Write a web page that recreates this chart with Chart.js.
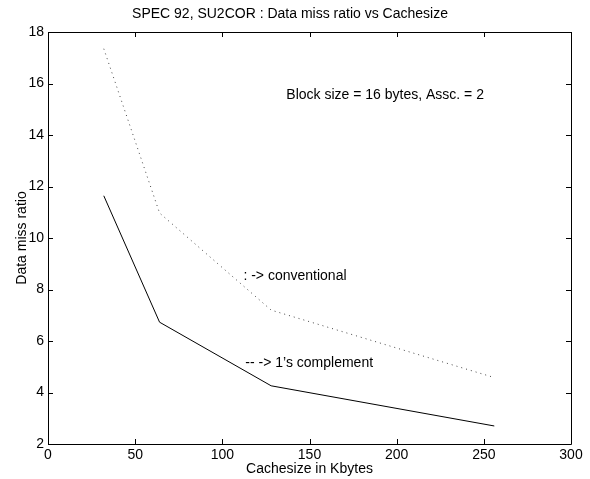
<!DOCTYPE html>
<html>
<head>
<meta charset="utf-8">
<script src="https://cdn.jsdelivr.net/npm/chart.js@4/dist/chart.umd.min.js"></script>
<style>
  html, body { margin: 0; padding: 0; background: #fff; }
  #wrap { width: 590px; height: 479px; }
</style>
</head>
<body>
<div id="wrap"><canvas id="missChart" width="590" height="479"></canvas></div>
<script>
// data
const cacheSizes = [32, 64, 128, 256];
const conventional = [17.35, 10.97, 7.2, 4.58];
const onesComplement = [11.64, 6.73, 4.26, 2.7];
const xTicks = [0, 50, 100, 150, 200, 250, 300];
const yTicks = [2, 4, 6, 8, 10, 12, 14, 16, 18];
const notes = ['Block size = 16 bytes, Assc. = 2', ': -> conventional', '-- -> 1\u2019s complement'];

const FONT = 'Liberation Sans, Arial, Helvetica, sans-serif';

// text notes inside the axes, placed in data units
const notePlugin = {
    id: 'notes',
    afterDatasetsDraw(chart) {
        const {ctx, scales: {x, y}} = chart;
        const at = [[136.7, 15.55], [112.1, 8.5], [113.2, 5.13]];
        ctx.save();
        ctx.font = '14px ' + FONT;
        ctx.fillStyle = '#000';
        ctx.textAlign = 'left';
        ctx.textBaseline = 'middle';
        notes.forEach((t, i) => {
            ctx.fillText(t, x.getPixelForValue(at[i][0]), y.getPixelForValue(at[i][1]));
        });
        ctx.restore();
    }
};

// matlab style box with inward ticks on all four sides
const boxPlugin = {
    id: 'box',
    afterDraw(chart) {
        const {ctx, chartArea: a, scales: {x, y}} = chart;
        const len = 5;
        ctx.save();
        ctx.strokeStyle = '#000';
        ctx.lineWidth = 1;
        ctx.beginPath();
        ctx.rect(Math.round(a.left) + 0.5, Math.round(a.top) + 0.5,
                 Math.round(a.right) - Math.round(a.left), Math.round(a.bottom) - Math.round(a.top));
        xTicks.forEach(v => {
            const px = Math.round(x.getPixelForValue(v)) + 0.5;
            ctx.moveTo(px, a.bottom); ctx.lineTo(px, a.bottom - len);
            ctx.moveTo(px, a.top); ctx.lineTo(px, a.top + len);
        });
        yTicks.forEach(v => {
            const py = Math.round(y.getPixelForValue(v)) + 0.5;
            ctx.moveTo(a.left, py); ctx.lineTo(a.left + len, py);
            ctx.moveTo(a.right, py); ctx.lineTo(a.right - len, py);
        });
        ctx.stroke();
        ctx.restore();
    }
};

new Chart(document.getElementById('missChart'), {
    type: 'line',
    data: {
        labels: cacheSizes,
        datasets: [{
            label: 'conventional',
            data: cacheSizes.map((c, i) => ({x: c, y: conventional[i]})),
            borderColor: '#444',
            borderWidth: 1,
            borderDash: [1, 4],
            pointRadius: 0,
            tension: 0,
            fill: false
        }, {
            label: "1's complement",
            data: cacheSizes.map((c, i) => ({x: c, y: onesComplement[i]})),
            borderColor: '#000',
            borderWidth: 1,
            pointRadius: 0,
            tension: 0,
            fill: false
        }]
    },
    options: {
        responsive: false,
        animation: false,
        layout: { padding: { left: 9, right: 19, top: 0, bottom: 0 } },
        plugins: {
            legend: { display: false },
            tooltip: { enabled: false },
            title: {
                display: true,
                text: 'SPEC 92, SU2COR : Data miss ratio vs Cachesize',
                color: '#000',
                font: { family: FONT, size: 14, weight: 'normal', lineHeight: 1.2 },
                padding: { top: 5.6, bottom: 9.6 }
            }
        },
        scales: {
            x: {
                type: 'linear',
                min: 0,
                max: 300,
                afterBuildTicks: s => { s.ticks = xTicks.map(v => ({value: v})); },
                afterFit: s => { s.height = 35; },
                grid: { display: false, drawTicks: false },
                border: { display: false },
                ticks: { color: '#000', padding: 3, maxRotation: 0, font: { family: FONT, size: 14 } },
                title: {
                    display: true,
                    text: 'Cachesize in Kbytes',
                    color: '#000',
                    font: { family: FONT, size: 14, lineHeight: 1.2 },
                    padding: { top: 0, bottom: 1.6 }
                }
            },
            y: {
                type: 'linear',
                min: 2,
                max: 18,
                afterBuildTicks: s => { s.ticks = yTicks.map(v => ({value: v})); },
                afterFit: s => { s.width = 39; },
                grid: { display: false, drawTicks: false },
                border: { display: false },
                ticks: { color: '#000', padding: 4, font: { family: FONT, size: 14 } },
                title: {
                    display: true,
                    text: 'Data miss ratio',
                    color: '#000',
                    font: { family: FONT, size: 14, lineHeight: 1.2 },
                    padding: { top: 5, bottom: 0 }
                }
            }
        }
    },
    plugins: [notePlugin, boxPlugin]
});
</script>
</body>
</html>
